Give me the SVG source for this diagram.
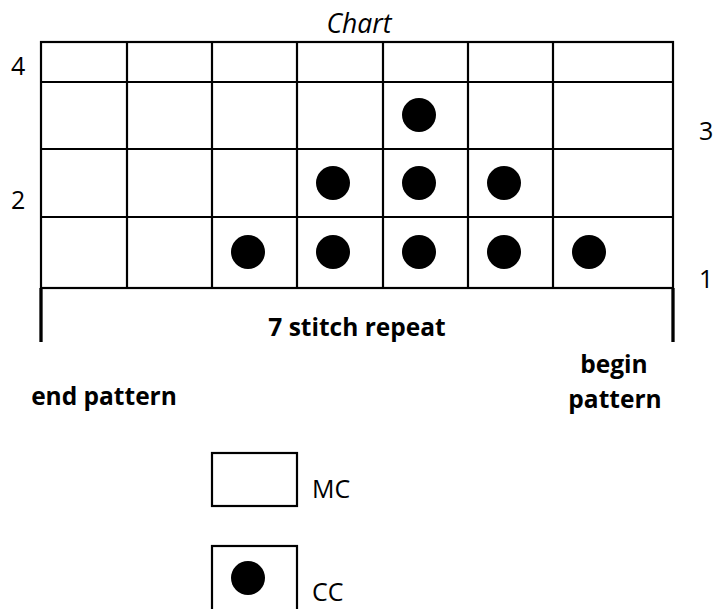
<svg xmlns="http://www.w3.org/2000/svg" width="714" height="609" viewBox="0 0 714 609">
<style>
text{font-family:"Open Sans",Lato,"Liberation Sans",sans-serif;font-size:25px;fill:#000}
.b{font-weight:bold;font-size:24.5px}
.i{font-style:italic;font-size:26.5px}
.g{stroke:#000;stroke-width:2.2;fill:none}
.br{stroke:#000;stroke-width:3.3;fill:none}
.d{fill:#000}
</style>
<rect width="714" height="609" fill="#fff"/>
<text class="i" x="359" y="33" text-anchor="middle">Chart</text>
<g id="grid">
<rect class="g" x="41" y="42" width="632" height="246"/>
<path class="g" d="M41 82H673M41 149H673M41 217H673M127 42V288M212 42V288M297 42V288M383 42V288M468 42V288M553 42V288"/>
</g>
<g id="stitches">
<circle class="d" cx="419" cy="115" r="17"/>
<circle class="d" cx="333" cy="183" r="17"/>
<circle class="d" cx="419" cy="183" r="17"/>
<circle class="d" cx="504" cy="183" r="17"/>
<circle class="d" cx="248" cy="252" r="17"/>
<circle class="d" cx="333" cy="252" r="17"/>
<circle class="d" cx="419" cy="252" r="17"/>
<circle class="d" cx="504" cy="252" r="17"/>
<circle class="d" cx="589" cy="252" r="17"/>
</g>
<g id="row-numbers">
<text x="11" y="75">4</text>
<text x="699" y="140">3</text>
<text x="11" y="209">2</text>
<text x="699" y="288">1</text>
</g>
<g id="repeat">
<path class="br" d="M41 288V342M673 288V342"/>
<text class="b" x="357" y="336" text-anchor="middle">7 stitch repeat</text>
</g>
<text class="b" x="104" y="405" text-anchor="middle">end pattern</text>
<text class="b" x="614" y="373" text-anchor="middle">begin</text>
<text class="b" x="615" y="408" text-anchor="middle">pattern</text>
<g id="legend-mc">
<rect class="g" x="212" y="453" width="85" height="53"/>
<text x="312" y="498">MC</text>
</g>
<g id="legend-cc">
<rect class="g" x="212" y="546" width="85" height="70"/>
<circle class="d" cx="248" cy="578" r="17"/>
<text x="312" y="601">CC</text>
</g>
</svg>
